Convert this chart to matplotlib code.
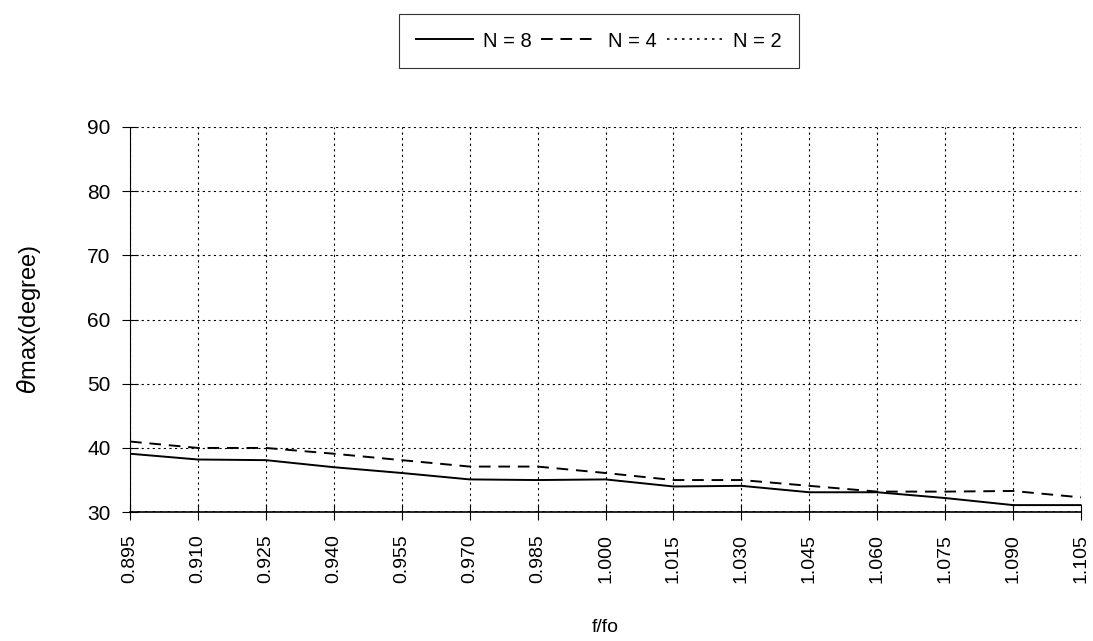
import matplotlib.pyplot as plt
import numpy as np

##########
# Data
##########

f_ratio = [0.895, 0.910, 0.925, 0.940, 0.955, 0.970, 0.985,
           1.000, 1.015, 1.030, 1.045, 1.060, 1.075, 1.090, 1.105]
theta_n8 = [39.1, 38.2, 38.1, 37.0, 36.1, 35.1, 35.0,
            35.1, 34.0, 34.1, 33.1, 33.1, 32.2, 31.1, 31.1]
theta_n4 = [41.0, 40.0, 40.0, 39.1, 38.1, 37.1, 37.1,
            36.1, 35.0, 35.0, 34.1, 33.2, 33.2, 33.3, 32.3]
theta_n2 = [30.0, 30.0, 30.0, 30.0, 30.0, 30.0, 30.0,
            30.0, 30.0, 30.0, 30.0, 30.0, 30.0, 30.0, 30.0]
y_ticks = [30, 40, 50, 60, 70, 80, 90]

##########
# Plot
##########

plt.rcParams['font.family'] = ['Liberation Sans', 'DejaVu Sans']

fig = plt.figure(figsize=(10.93, 6.41), dpi=100)
ax = fig.add_axes([0.119, 0.201, 0.870, 0.601])

ax.plot(f_ratio, theta_n8, color='black', lw=1.4, label='N = 8')
ax.plot(f_ratio, theta_n4, color='black', lw=1.4, linestyle=(0, (6, 4)), label='N = 4')
ax.plot(f_ratio, theta_n2, color='black', lw=1.2, linestyle=(0, (1.5, 3)), label='N = 2')

ax.set_xlim(f_ratio[0], f_ratio[-1])
ax.set_ylim(30, 90)
ax.set_xticks(f_ratio)
ax.set_xticklabels(['%.3f' % v for v in f_ratio], rotation=90, fontsize=14)
ax.set_yticks(y_ticks)
ax.set_yticklabels([str(v) for v in y_ticks], fontsize=15)

ax.grid(True, color='black', linestyle=(0, (2, 3)), lw=0.8)
ax.spines['top'].set_visible(False)
ax.spines['right'].set_visible(False)
ax.spines['left'].set_linewidth(0.8)
ax.spines['bottom'].set_linewidth(1.2)
ax.tick_params(axis='both', direction='inout', length=12, width=0.8)
ax.tick_params(axis='x', pad=10)
ax.tick_params(axis='y', pad=8)

ax.set_xlabel('f/fo', fontsize=14, labelpad=26)
ax.set_ylabel(r'$\theta$max(degree)', fontsize=17, labelpad=32)

leg = fig.legend(loc='center', bbox_to_anchor=(0.548, 0.936), ncol=3,
                 fontsize=14.5, frameon=True, fancybox=False, handlelength=2.8,
                 columnspacing=0.5, handletextpad=0.5, borderpad=0.85)
leg.get_frame().set_edgecolor('black')
leg.get_frame().set_linewidth(0.8)

fig.savefig('out.png', dpi=100)
